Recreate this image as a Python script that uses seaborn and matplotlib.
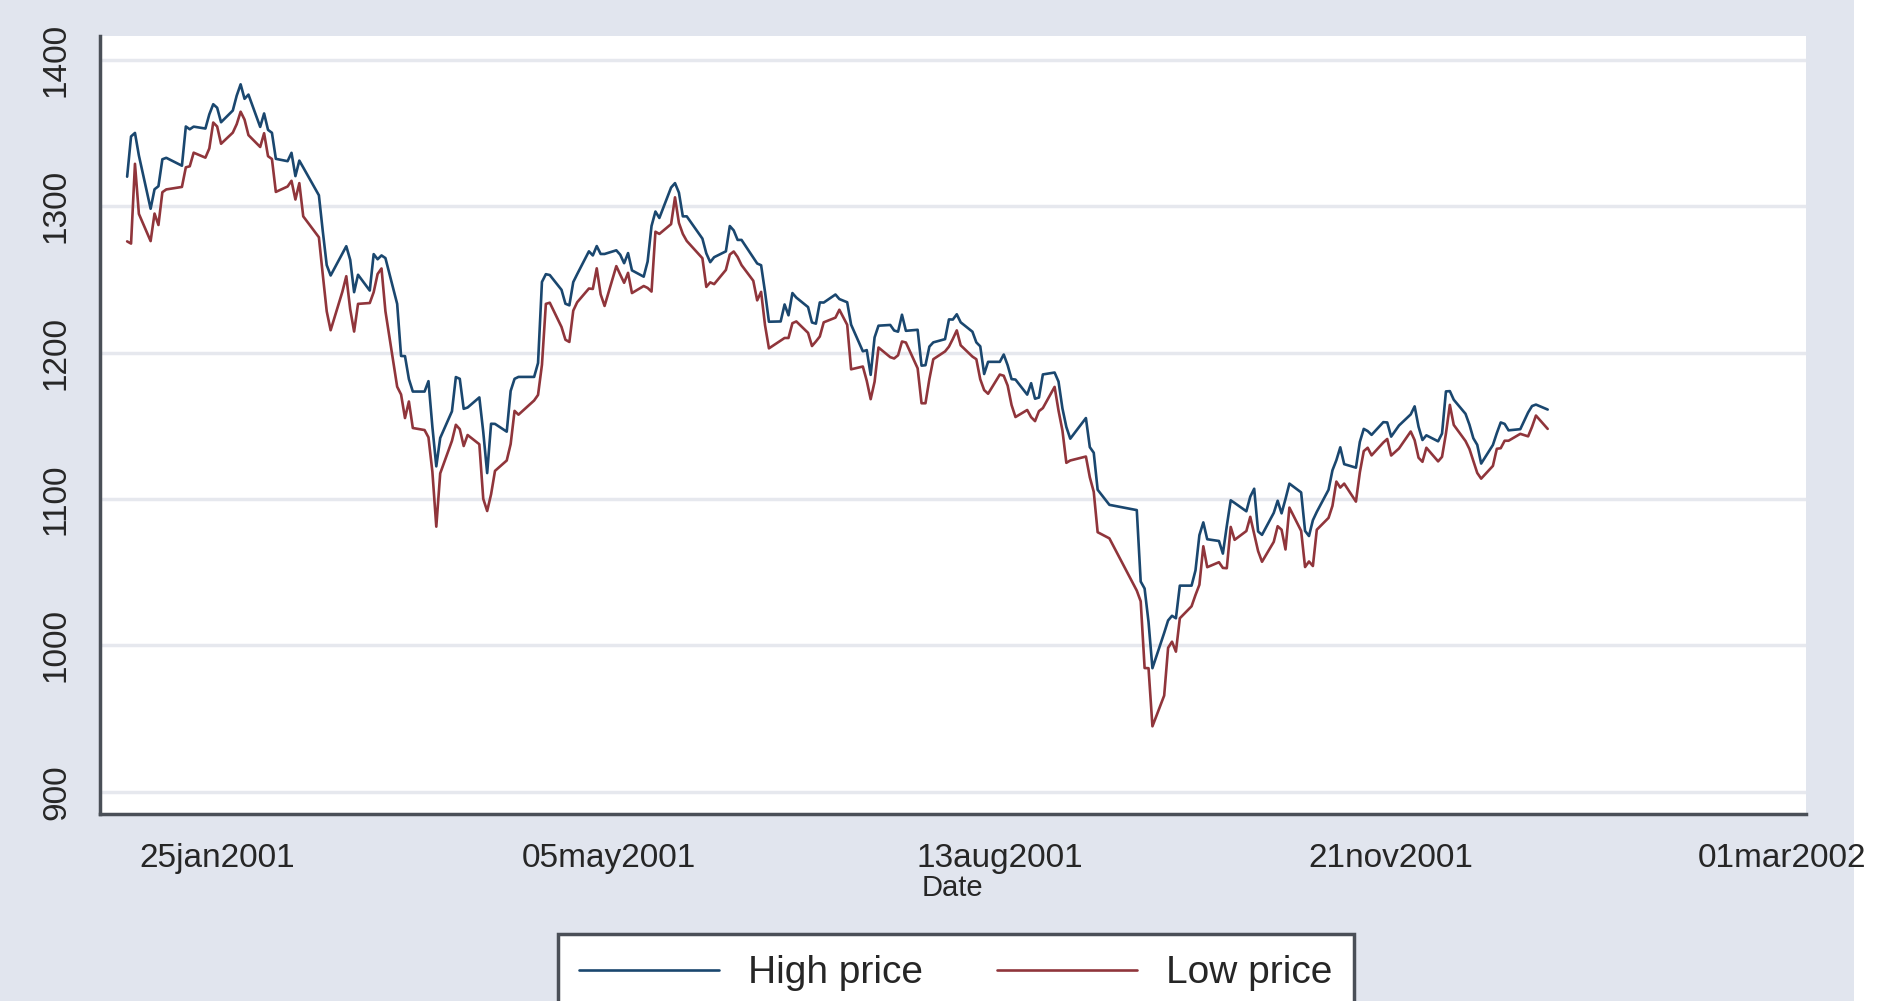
"""
High/low daily price, 2001 - Stata s2color look, redrawn with seaborn.
"""

import matplotlib
matplotlib.use("Agg")
import matplotlib.pyplot as plt
import matplotlib.dates as mdates
from matplotlib.patches import Rectangle
import pandas as pd
import seaborn as sns

# ──────────────────────────────────────────
# Data (one value per trading day)
# ──────────────────────────────────────────
HOLIDAYS = ["2001-01-15", "2001-02-19", "2001-04-13", "2001-05-28", "2001-07-04",
            "2001-09-03", "2001-09-11", "2001-09-12", "2001-09-13", "2001-09-14",
            "2001-11-22", "2001-12-25"]

high_price = [
    # jan
    1320.3, 1347.8, 1350.2, 1334.8, 1298.4, 1311.7, 1313.8, 1332.2, 1333.2, 1327.8, 1354.6,
    1352.7, 1354.5, 1353.2, 1362.9, 1369.8, 1367.4, 1357.5, 1365.5, 1375.7, 1383.4,
    # feb
    1373.5, 1376.4, 1354.3, 1363.5, 1352.3, 1350.3, 1332.5, 1330.9, 1336.6, 1320.7,
    1331.3, 1326.6, 1307.6, 1282.9, 1259.9, 1252.8, 1267.7, 1272.8, 1263.5,
    # mar
    1241.4, 1253.3, 1242.5, 1267.4, 1263.9, 1266.5, 1264.7, 1233.4, 1197.8, 1197.7, 1182.0,
    1173.5, 1173.5, 1180.6, 1149.4, 1122.4, 1141.8, 1160.0, 1183.4, 1182.2, 1161.7, 1162.6,
    # apr
    1169.5, 1145.9, 1117.8, 1151.5, 1151.4, 1146.1, 1173.9, 1182.2, 1183.5, 1183.5,
    1193.0, 1248.4, 1253.7, 1253.1, 1243.0, 1233.5, 1232.4, 1248.3, 1253.7, 1269.3,
    # may
    1266.5, 1272.9, 1267.5, 1267.5, 1270.0, 1267.0, 1261.2, 1268.1, 1256.3, 1252.0, 1262.3,
    1286.6, 1296.5, 1292.1, 1312.9, 1315.9, 1309.4, 1293.2, 1293.2, 1278.0, 1267.9, 1261.9,
    # jun
    1265.3, 1269.3, 1286.6, 1283.6, 1277.1, 1277.1, 1265.0, 1261.0, 1259.8, 1241.6, 1221.2,
    1221.4, 1233.0, 1225.6, 1240.8, 1237.7, 1231.2, 1220.7, 1219.9, 1234.4, 1234.3,
    # jul
    1239.8, 1236.7, 1234.5, 1219.2, 1201.0, 1201.8, 1184.9, 1210.5, 1218.5, 1219.0, 1215.2,
    1214.4, 1226.0, 1215.0, 1215.7, 1191.2, 1191.5, 1204.2, 1207.1, 1209.3, 1222.8,
    # aug
    1222.7, 1226.3, 1220.8, 1214.4, 1207.1, 1204.4, 1185.5, 1193.8, 1193.8, 1198.8, 1191.5,
    1182.0, 1181.7, 1171.4, 1179.2, 1168.6, 1169.4, 1185.2, 1186.5, 1180.3, 1162.0, 1149.3,
    1141.3,
    # sep
    1155.4, 1135.5, 1131.7, 1106.4, 1096.1, 1092.5, 1043.7, 1038.9, 1016.1, 984.5,
    1008.6, 1017.1, 1020.3, 1018.6, 1040.9,
    # oct
    1040.9, 1051.3, 1075.4, 1084.1, 1072.6, 1071.4, 1062.8, 1081.6, 1099.2, 1097.4, 1091.7,
    1101.7, 1107.1, 1077.9, 1075.6, 1090.6, 1098.9, 1090.3, 1100.1, 1110.6, 1104.6, 1078.3,
    1074.8,
    # nov
    1085.6, 1091.3, 1106.4, 1119.7, 1126.6, 1135.4, 1123.9, 1121.5, 1139.1, 1148.0, 1146.5,
    1143.9, 1152.6, 1152.4, 1142.7, 1150.3, 1157.9, 1163.4, 1149.5, 1140.4, 1143.6,
    # dec
    1139.5, 1144.8, 1173.6, 1173.8, 1167.9, 1158.3, 1150.9, 1141.6, 1137.1, 1124.3,
    1137.0, 1145.1, 1152.4, 1151.4, 1147.0, 1147.8, 1159.2, 1163.6, 1164.6, 1161.2,
]

low_price = [
    # jan
    1276.1, 1274.6, 1329.1, 1294.9, 1276.3, 1295.1, 1287.3, 1309.7, 1311.6, 1313.3, 1326.7,
    1327.4, 1336.7, 1333.3, 1339.6, 1357.3, 1354.6, 1342.8, 1350.4, 1356.2, 1364.7,
    # feb
    1359.3, 1348.7, 1340.6, 1350.0, 1334.3, 1332.4, 1309.9, 1313.6, 1317.5, 1304.7,
    1315.9, 1293.2, 1278.9, 1253.2, 1228.3, 1215.4, 1241.7, 1252.3, 1229.7,
    # mar
    1214.5, 1233.4, 1234.0, 1241.4, 1253.8, 1257.6, 1228.4, 1176.8, 1171.5, 1155.4, 1166.7,
    1148.6, 1147.2, 1142.2, 1118.7, 1081.2, 1117.6, 1139.8, 1150.8, 1147.8, 1136.3, 1143.8,
    # apr
    1137.5, 1100.2, 1091.9, 1103.3, 1119.3, 1126.4, 1137.6, 1160.3, 1157.7, 1167.4,
    1171.2, 1191.8, 1233.4, 1234.2, 1217.6, 1208.9, 1207.4, 1228.8, 1234.5, 1243.9,
    # may
    1243.6, 1257.7, 1239.9, 1232.0, 1259.2, 1253.4, 1247.8, 1254.6, 1240.8, 1245.6, 1244.3,
    1241.8, 1282.7, 1281.2, 1287.9, 1306.2, 1288.7, 1281.2, 1276.4, 1264.6, 1245.0, 1248.1,
    # jun
    1246.9, 1256.6, 1267.1, 1269.2, 1265.4, 1259.9, 1249.2, 1235.8, 1241.6, 1218.9, 1203.0,
    1208.3, 1210.1, 1210.1, 1220.2, 1221.4, 1213.6, 1204.6, 1207.7, 1211.1, 1220.8,
    # jul
    1224.0, 1229.4, 1219.1, 1188.7, 1190.6, 1180.8, 1168.3, 1180.2, 1203.6, 1197.0, 1196.1,
    1198.3, 1207.7, 1207.0, 1189.4, 1165.5, 1165.5, 1182.0, 1195.6, 1200.9, 1204.2,
    # aug
    1209.5, 1215.3, 1205.1, 1197.4, 1195.6, 1181.9, 1174.5, 1172.0, 1185.1, 1184.3, 1177.6,
    1164.3, 1156.1, 1160.9, 1156.0, 1153.3, 1160.1, 1162.2, 1176.7, 1160.5, 1146.9, 1124.8,
    1126.4,
    # sep
    1129.1, 1114.9, 1105.0, 1077.4, 1073.2, 1037.5, 1030.2, 984.6, 984.5, 944.8,
    965.8, 998.4, 1002.6, 995.8, 1018.6,
    # oct
    1026.8, 1034.5, 1041.5, 1067.8, 1053.5, 1056.9, 1053.0, 1052.8, 1081.0, 1072.2, 1078.2,
    1087.9, 1076.3, 1064.5, 1057.2, 1070.8, 1081.5, 1079.1, 1065.6, 1094.2, 1078.3, 1053.6,
    1057.4,
    # nov
    1054.3, 1079.1, 1087.2, 1095.4, 1112.0, 1107.9, 1110.6, 1098.3, 1118.3, 1132.8, 1135.1,
    1129.9, 1138.7, 1141.1, 1129.8, 1134.6, 1146.2, 1140.3, 1128.3, 1125.5, 1135.1,
    # dec
    1125.8, 1128.9, 1144.8, 1164.4, 1150.7, 1139.7, 1134.3, 1126.0, 1117.9, 1114.0,
    1122.7, 1134.4, 1134.8, 1139.9, 1139.9, 1144.6, 1142.9, 1149.4, 1157.1, 1148.0,
]

SERIES = ["High price", "Low price"]
COLORS = {"High price": "#1a476f", "Low price": "#90353b"}

y_ticks = [900, 1000, 1100, 1200, 1300, 1400]
x_tick_dates = ["2001-01-25", "2001-05-05", "2001-08-13", "2001-11-21", "2002-03-01"]
x_tick_labels = ["25jan2001", "05may2001", "13aug2001", "21nov2001", "01mar2002"]

BG = "#e1e5ee"
INK = "#262626"
AXIS = "#4a4f57"

# ──────────────────────────────────────────
dates = pd.bdate_range("2001-01-02", "2001-12-31", freq="C", holidays=HOLIDAYS)
assert len(dates) == len(high_price) == len(low_price), (len(dates), len(high_price), len(low_price))

df = pd.concat([
    pd.DataFrame({"date": dates, "price": high_price, "series": "High price"}),
    pd.DataFrame({"date": dates, "price": low_price, "series": "Low price"}),
])

sns.set_style("white")
plt.rcParams["font.family"] = ["Liberation Sans", "DejaVu Sans"]

fig = plt.figure(figsize=(18.82, 10.01), dpi=100, facecolor=BG)
fig.patches.append(Rectangle((0.985, 0), 0.015, 1, transform=fig.transFigure,
                             facecolor="white", edgecolor="none", zorder=-1))
ax = fig.add_axes([0.053, 0.187, 0.9066, 0.777])
ax.set_facecolor("white")

sns.lineplot(data=df, x="date", y="price", hue="series", hue_order=SERIES,
             palette=COLORS, linewidth=1.9, legend=False, ax=ax)

ax.set_ylim(885, 1416.4)
ax.set_xlim(pd.Timestamp("2000-12-26"), pd.Timestamp("2002-03-07"))
ax.set_yticks(y_ticks)
ax.set_yticklabels([str(v) for v in y_ticks], rotation=90, va="center")
ax.set_xticks([mdates.date2num(pd.Timestamp(d)) for d in x_tick_dates])
ax.set_xticklabels(x_tick_labels)

ax.grid(axis="y", color="#e6e8ee", linewidth=2.5)
ax.grid(axis="x", visible=False)
for side in ("top", "right"):
    ax.spines[side].set_visible(False)
for side in ("left", "bottom"):
    ax.spines[side].set_color(AXIS)
    ax.spines[side].set_linewidth(2.5)

ax.tick_params(axis="y", length=10, width=2, color=AXIS, labelsize=24,
               pad=10, labelcolor=INK)
ax.tick_params(axis="x", length=12, width=2, color=AXIS, labelsize=24,
               pad=9, labelcolor=INK)
ax.set_xlabel("Date", fontsize=21, color=INK, labelpad=0)
ax.set_ylabel("")

handles = [plt.Line2D([], [], color=COLORS[s], linewidth=1.9) for s in SERIES]
leg = fig.legend(handles, SERIES, loc="upper center", bbox_to_anchor=(0.508, 0.067),
                 ncol=2, fontsize=28, frameon=True, fancybox=False, framealpha=1,
                 handlelength=3.6, handletextpad=0.75, columnspacing=1.9,
                 borderpad=0.55, borderaxespad=0, labelcolor=INK)
leg.get_frame().set_edgecolor(AXIS)
leg.get_frame().set_linewidth(2.5)
leg.get_frame().set_facecolor("white")

fig.savefig("out.png", dpi=100, facecolor=BG)
